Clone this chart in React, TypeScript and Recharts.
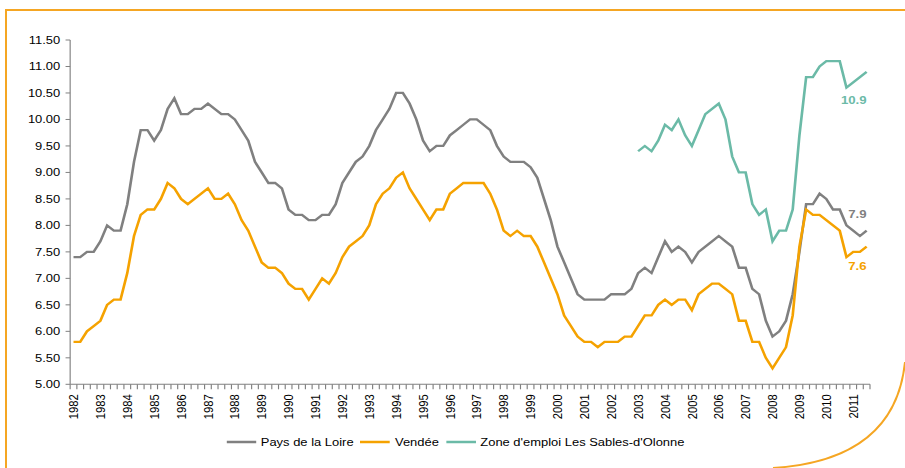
import React from 'react';
import { LineChart, Line, XAxis, YAxis, Legend, LabelList } from 'recharts';

// ---- data ----
const years = [
  1982, 1983, 1984, 1985, 1986, 1987, 1988, 1989, 1990, 1991, 1992, 1993, 1994, 1995, 1996,
  1997, 1998, 1999, 2000, 2001, 2002, 2003, 2004, 2005, 2006, 2007, 2008, 2009, 2010, 2011,
];
const quarters = ['T1', 'T2', 'T3', 'T4'];
const periods: string[] = years
  .flatMap((yr) => quarters.map((q) => `${yr} ${q}`))
  .slice(0, 119); // 1982 T1 .. 2011 T3

const paysDeLaLoire = [
  7.4, 7.4, 7.5, 7.5, 7.7, 8.0, 7.9, 7.9, 8.4, 9.2, 9.8, 9.8,
  9.6, 9.8, 10.2, 10.4, 10.1, 10.1, 10.2, 10.2, 10.3, 10.2, 10.1, 10.1,
  10.0, 9.8, 9.6, 9.2, 9.0, 8.8, 8.8, 8.7, 8.3, 8.2, 8.2, 8.1,
  8.1, 8.2, 8.2, 8.4, 8.8, 9.0, 9.2, 9.3, 9.5, 9.8, 10.0, 10.2,
  10.5, 10.5, 10.3, 10.0, 9.6, 9.4, 9.5, 9.5, 9.7, 9.8, 9.9, 10.0,
  10.0, 9.9, 9.8, 9.5, 9.3, 9.2, 9.2, 9.2, 9.1, 8.9, 8.5, 8.1,
  7.6, 7.3, 7.0, 6.7, 6.6, 6.6, 6.6, 6.6, 6.7, 6.7, 6.7, 6.8,
  7.1, 7.2, 7.1, 7.4, 7.7, 7.5, 7.6, 7.5, 7.3, 7.5, 7.6, 7.7,
  7.8, 7.7, 7.6, 7.2, 7.2, 6.8, 6.7, 6.2, 5.9, 6.0, 6.2, 6.7,
  7.5, 8.4, 8.4, 8.6, 8.5, 8.3, 8.3, 8.0, 7.9, 7.8, 7.9,
];
const vendee = [
  5.8, 5.8, 6.0, 6.1, 6.2, 6.5, 6.6, 6.6, 7.1, 7.8, 8.2, 8.3,
  8.3, 8.5, 8.8, 8.7, 8.5, 8.4, 8.5, 8.6, 8.7, 8.5, 8.5, 8.6,
  8.4, 8.1, 7.9, 7.6, 7.3, 7.2, 7.2, 7.1, 6.9, 6.8, 6.8, 6.6,
  6.8, 7.0, 6.9, 7.1, 7.4, 7.6, 7.7, 7.8, 8.0, 8.4, 8.6, 8.7,
  8.9, 9.0, 8.7, 8.5, 8.3, 8.1, 8.3, 8.3, 8.6, 8.7, 8.8, 8.8,
  8.8, 8.8, 8.6, 8.3, 7.9, 7.8, 7.9, 7.8, 7.8, 7.6, 7.3, 7.0,
  6.7, 6.3, 6.1, 5.9, 5.8, 5.8, 5.7, 5.8, 5.8, 5.8, 5.9, 5.9,
  6.1, 6.3, 6.3, 6.5, 6.6, 6.5, 6.6, 6.6, 6.4, 6.7, 6.8, 6.9,
  6.9, 6.8, 6.7, 6.2, 6.2, 5.8, 5.8, 5.5, 5.3, 5.5, 5.7, 6.3,
  7.6, 8.3, 8.2, 8.2, 8.1, 8.0, 7.9, 7.4, 7.5, 7.5, 7.6,
];
// Zone d'emploi Les Sables-d'Olonne, from 2003 T1
const sablesStart = '2003 T1';
const sablesOlonne = [
  9.4, 9.5, 9.4, 9.6, 9.9, 9.8, 10.0, 9.7, 9.5, 9.8, 10.1, 10.2,
  10.3, 10.0, 9.3, 9.0, 9.0, 8.4, 8.2, 8.3, 7.7, 7.9, 7.9, 8.3,
  9.7, 10.8, 10.8, 11.0, 11.1, 11.1, 11.1, 10.6, 10.7, 10.8, 10.9,
];
const yTicks = [5, 5.5, 6, 6.5, 7, 7.5, 8, 8.5, 9, 9.5, 10, 10.5, 11, 11.5];

const seriesNames = {
  pdl: 'Pays de la Loire',
  ven: 'Vendée',
  sab: "Zone d'emploi Les Sables-d'Olonne",
};

const startIdx = periods.indexOf(sablesStart);
const data = periods.map((p, i) => ({
  period: p,
  pdl: paysDeLaLoire[i],
  ven: vendee[i],
  sab: i >= startIdx ? sablesOlonne[i - startIdx] : null,
}));

// ---- style ----
const SX = 1.15; // horizontal stretch of the original picture
const W = 905 / SX;
const H = 468;
const PLOT_LEFT = 61;
const PLOT_RIGHT = 870 / SX;
const HALF = (PLOT_RIGHT - PLOT_LEFT) / (2 * periods.length);
const FONT = '"Liberation Sans", Arial, sans-serif';
const GRAY = '#808080';
const ORANGE = '#F5A200';
const TEAL = '#6BBAA7';
const AXIS = '#808080';
const LAST = periods.length - 1;

const XTick = (props: any) => {
  const { x, y, payload } = props;
  const idx = payload.index;
  const label: string = payload.value;
  const isQ1 = label.endsWith('T1');
  const ty = y + 10;
  return (
    <g>
      <line x1={x - HALF} x2={x - HALF} y1={y} y2={y + 5} stroke={AXIS} strokeWidth={1} />
      {idx === LAST && (
        <line x1={x + HALF} x2={x + HALF} y1={y} y2={y + 5} stroke={AXIS} strokeWidth={1} />
      )}
      {isQ1 && (
        <text
          x={x}
          y={ty}
          dy="0.36em"
          textAnchor="end"
          transform={`rotate(-90 ${x} ${ty})`}
          fontSize={11.25}
          fontFamily={FONT}
          fill="#000"
        >
          {label.slice(0, 4)}
        </text>
      )}
    </g>
  );
};

const endLabel = (color: string, dy: number) => (props: any) => {
  const { x, y, index, value } = props;
  if (index !== LAST || value == null) return null;
  return (
    <text
      x={x}
      y={y + dy}
      textAnchor="end"
      dominantBaseline="central"
      fill={color}
      fontWeight="bold"
      fontSize={11.5}
      fontFamily={FONT}
    >
      {Number(value).toFixed(1)}
    </text>
  );
};

const legendItems = [
  { key: 'pdl', color: GRAY },
  { key: 'ven', color: ORANGE },
  { key: 'sab', color: TEAL },
];

const renderLegend = () => (
  <div
    style={{
      display: 'flex',
      justifyContent: 'center',
      alignItems: 'center',
      fontFamily: FONT,
      fontSize: 11.25,
      color: '#000',
      paddingLeft: 11,
      whiteSpace: 'nowrap',
    }}
  >
    {legendItems.map((it) => (
      <div key={it.key} style={{ display: 'flex', alignItems: 'center', marginRight: 6 }}>
        <svg width={26} height={10} style={{ marginRight: 4 }}>
          <line x1={0} x2={26} y1={5} y2={5} stroke={it.color} strokeWidth={2.6} />
        </svg>
        <span>{(seriesNames as any)[it.key]}</span>
      </div>
    ))}
  </div>
);

export default function App() {
  return (
    <div
      style={{
        position: 'absolute',
        left: 0,
        top: 0,
        width: 905,
        height: 468,
        overflow: 'hidden',
        background: '#fff',
      }}
    >
      <div
        style={{
          position: 'absolute',
          left: 0,
          top: 0,
          width: W,
          height: H,
          transform: `scaleX(${SX})`,
          transformOrigin: '0 0',
        }}
      >
        <LineChart
          width={W}
          height={H}
          data={data}
          margin={{ top: 40, right: W - PLOT_RIGHT, bottom: 0, left: 0 }}
        >
          <XAxis
            dataKey="period"
            type="category"
            interval={0}
            height={83.7}
            padding={{ left: HALF, right: HALF }}
            tickLine={false}
            tickSize={0}
            tickMargin={0}
            axisLine={{ stroke: AXIS, strokeWidth: 1 }}
            tick={<XTick />}
          />
          <YAxis
            type="number"
            domain={[5, 11.5]}
            ticks={yTicks}
            interval={0}
            width={PLOT_LEFT}
            tickFormatter={(v: number) => v.toFixed(2)}
            tickSize={4}
            tickMargin={4.6}
            tickLine={{ stroke: AXIS }}
            axisLine={{ stroke: AXIS, strokeWidth: 1 }}
            tick={{ fontSize: 11.25, fontFamily: FONT, fill: '#000' }}
          />
          <Legend
            layout="horizontal"
            verticalAlign="middle"
            align="center"
            content={renderLegend}
            wrapperStyle={{ position: 'absolute', left: 0, top: 436, width: W, height: 16 }}
          />
          <Line
            type="linear"
            dataKey="pdl"
            name={seriesNames.pdl}
            stroke={GRAY}
            strokeWidth={2.3}
            dot={false}
            activeDot={false}
            isAnimationActive={false}
          >
            <LabelList dataKey="pdl" content={endLabel(GRAY, -16)} />
          </Line>
          <Line
            type="linear"
            dataKey="ven"
            name={seriesNames.ven}
            stroke={ORANGE}
            strokeWidth={2.3}
            dot={false}
            activeDot={false}
            isAnimationActive={false}
          >
            <LabelList dataKey="ven" content={endLabel(ORANGE, 19.5)} />
          </Line>
          <Line
            type="linear"
            dataKey="sab"
            name={seriesNames.sab}
            stroke={TEAL}
            strokeWidth={2.3}
            dot={false}
            activeDot={false}
            isAnimationActive={false}
          >
            <LabelList dataKey="sab" content={endLabel(TEAL, 28.3)} />
          </Line>
        </LineChart>
      </div>
      <svg
        width={905}
        height={468}
        style={{ position: 'absolute', left: 0, top: 0, pointerEvents: 'none' }}
      >
        <path d="M 6 468 L 6 10 L 905 10" fill="none" stroke="#F5A623" strokeWidth={2} />
        <path d="M 905 362 Q 895 460 773 468" fill="none" stroke="#F5A623" strokeWidth={2} />
      </svg>
    </div>
  );
}
